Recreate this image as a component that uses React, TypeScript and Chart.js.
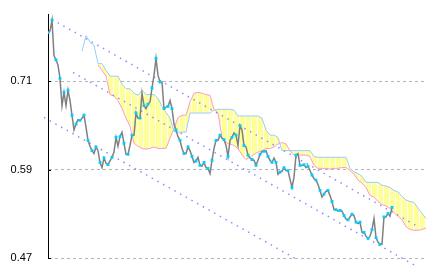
import React, { useEffect, useRef } from "react";
import { Chart, registerables } from "chart.js";

Chart.register(...registerables);

// y axis
const Y_TICKS = [0.47, 0.59, 0.71];
const Y_MIN = 0.47;
const Y_MAX = 0.8013;
const X_MAX = 189.5; // period index at right edge of plot

// closing price, one value per period starting at period 0
const PRICE = [
  0.776, 0.778, 0.793, 0.745, 0.739, 0.732, 0.714, 0.677, 0.695, 0.677,
  0.698, 0.684, 0.664, 0.644, 0.652, 0.658, 0.657, 0.660, 0.664, 0.648,
  0.630, 0.622, 0.616, 0.612, 0.621, 0.616, 0.600, 0.593, 0.606, 0.599,
  0.597, 0.602, 0.607, 0.614, 0.634, 0.622, 0.635, 0.641, 0.626, 0.611,
  0.611, 0.623, 0.637, 0.637, 0.667, 0.660, 0.660, 0.694, 0.677, 0.673,
  0.679, 0.682, 0.701, 0.718, 0.741, 0.718, 0.709, 0.709, 0.673, 0.675,
  0.676, 0.684, 0.673, 0.652, 0.644, 0.635, 0.630, 0.619, 0.612, 0.612,
  0.621, 0.616, 0.608, 0.600, 0.602, 0.607, 0.596, 0.595, 0.600, 0.593,
  0.592, 0.585, 0.603, 0.619, 0.630, 0.630, 0.637, 0.633, 0.631, 0.623,
  0.608, 0.630, 0.634, 0.640, 0.637, 0.623, 0.650, 0.644, 0.623, 0.621,
  0.610, 0.606, 0.604, 0.603, 0.596, 0.603, 0.611, 0.615, 0.615, 0.616,
  0.608, 0.603, 0.600, 0.606, 0.600, 0.584, 0.587, 0.588, 0.593, 0.589,
  0.589, 0.577, 0.566, 0.580, 0.610, 0.612, 0.596, 0.596, 0.597, 0.593,
  0.595, 0.589, 0.583, 0.578, 0.576, 0.570, 0.562, 0.553, 0.557, 0.561,
  0.562, 0.555, 0.547, 0.536, 0.536, 0.534, 0.535, 0.534, 0.528, 0.523,
  0.522, 0.526, 0.530, 0.528, 0.519, 0.517, 0.519, 0.505, 0.505, 0.500,
  0.497, 0.500, 0.509, 0.524, 0.498, 0.492, 0.489, 0.489, 0.526, 0.526,
  0.531, 0.527, 0.539,
];

// cloud spans, one value every CLOUD_STEP periods
const CLOUD_STEP = 2;
const SPAN_BLUE_START = 17;
const SPAN_BLUE = [
  0.751, 0.772, 0.763, 0.759, 0.734, 0.734, 0.725, 0.717, 0.717, 0.717,
  0.706, 0.700, 0.700, 0.694, 0.691, 0.698, 0.692, 0.692, 0.692, 0.687,
  0.676, 0.668, 0.660, 0.642, 0.641, 0.641, 0.641, 0.667, 0.667, 0.667,
  0.667, 0.667, 0.667, 0.671, 0.672, 0.672, 0.672, 0.672, 0.671, 0.663,
  0.663, 0.663, 0.663, 0.663, 0.663, 0.660, 0.644, 0.637, 0.637, 0.634,
  0.616, 0.616, 0.616, 0.616, 0.616, 0.616, 0.616, 0.616, 0.608, 0.607,
  0.607, 0.607, 0.607, 0.607, 0.607, 0.607, 0.607, 0.592, 0.587, 0.585,
  0.581, 0.573, 0.573, 0.573, 0.573, 0.569, 0.568, 0.566, 0.562, 0.560,
  0.554, 0.549, 0.547, 0.546, 0.538, 0.531, 0.524,
];
const SPAN_PINK_START = 25;
const SPAN_PINK = [
  0.732, 0.725, 0.717, 0.692, 0.690, 0.684, 0.673, 0.660, 0.649, 0.626,
  0.622, 0.619, 0.618, 0.619, 0.621, 0.619, 0.619, 0.619, 0.633, 0.646,
  0.661, 0.664, 0.664, 0.682, 0.694, 0.695, 0.694, 0.692, 0.691, 0.672,
  0.667, 0.634, 0.627, 0.625, 0.623, 0.619, 0.610, 0.604, 0.607, 0.611,
  0.614, 0.616, 0.619, 0.619, 0.621, 0.625, 0.627, 0.625, 0.616, 0.610,
  0.610, 0.610, 0.610, 0.608, 0.596, 0.592, 0.592, 0.592, 0.591, 0.592,
  0.592, 0.593, 0.593, 0.589, 0.584, 0.576, 0.572, 0.566, 0.555, 0.553,
  0.547, 0.543, 0.541, 0.538, 0.532, 0.527, 0.522, 0.513, 0.509, 0.508,
  0.508, 0.509, 0.511,
];

// trend channel lines: [period, value] end points
const TREND_A = [[2, 0.794], [185, 0.513]];
const TREND_B = [[12.5, 0.722], [185, 0.458]];
const TREND_C = [[-2, 0.661], [123.5, 0.47]];

const innerTicks = {
  id: "innerTicks",
  afterDatasetsDraw(chart: any) {
    const s = chart.scales.y;
    const ctx = chart.ctx;
    const left = chart.chartArea.left;
    ctx.save();
    ctx.strokeStyle = "#000";
    ctx.lineWidth = 1;
    for (const v of Y_TICKS) {
      const y = Math.round(s.getPixelForValue(v)) + 0.5;
      ctx.beginPath();
      ctx.moveTo(left, y);
      ctx.lineTo(left + 3, y);
      ctx.stroke();
    }
    ctx.restore();
  },
};

export default function App() {
  const ref = useRef<HTMLCanvasElement | null>(null);

  useEffect(() => {
    const canvas = ref.current;
    if (!canvas) return;
    const pc = document.createElement("canvas");
    pc.width = 6;
    pc.height = 1;
    const pctx = pc.getContext("2d")!;
    pctx.fillStyle = "#ffff99";
    pctx.fillRect(0, 0, 5, 1);
    pctx.fillStyle = "#ffffff";
    pctx.fillRect(5, 0, 1, 1);
    const pattern = canvas.getContext("2d")!.createPattern(pc, "repeat");

    const priceData = PRICE.map((v, i) => ({ x: i, y: v }));
    const blueData = SPAN_BLUE.map((v, j) => ({ x: SPAN_BLUE_START + j * CLOUD_STEP, y: v }));
    const pinkData = SPAN_PINK.map((v, j) => ({ x: SPAN_PINK_START + j * CLOUD_STEP, y: v }));
    const trend = (t: number[][]) => t.map(([x, y]) => ({ x, y }));

    const trendStyle = {
      borderColor: "#8c8cff",
      borderWidth: 1.5,
      borderDash: [1.5, 5],
      pointRadius: 0,
      fill: false,
      clip: false as any,
      order: 1,
    };

    const chart = new Chart(canvas, {
      type: "line",
      data: {
        datasets: [
          {
            data: blueData,
            borderColor: "#99ccff",
            borderWidth: 1,
            pointRadius: 0,
            fill: false,
            order: 2,
          },
          {
            data: pinkData,
            borderColor: "#ff99cc",
            borderWidth: 1,
            pointRadius: 0,
            fill: 0,
            backgroundColor: pattern as any,
            order: 3,
          },
          { data: trend(TREND_A), ...trendStyle },
          { data: trend(TREND_B), ...trendStyle },
          { data: trend(TREND_C), ...trendStyle },
          {
            data: priceData,
            borderColor: "#808080",
            borderWidth: 1.5,
            pointStyle: "rect",
            pointRadius: (c: any) => (c.dataIndex % 2 === 0 ? 2 : 0),
            pointBackgroundColor: "#00ccff",
            pointBorderWidth: 0,
            fill: false,
            order: 0,
          },
        ] as any,
      },
      options: {
        animation: false,
        responsive: false,
        events: [],
        layout: { padding: { left: 0, right: 5, top: 14, bottom: 13.7 } },
        plugins: { legend: { display: false }, tooltip: { enabled: false } },
        scales: {
          x: { type: "linear", display: false, min: 0, max: X_MAX },
          y: {
            type: "linear",
            min: Y_MIN,
            max: Y_MAX,
            afterBuildTicks: (s: any) => {
              s.ticks = Y_TICKS.map((v) => ({ value: v }));
            },
            afterFit: (s: any) => {
              s.width = 48;
            },
            grid: {
              color: "#b4b4b4",
              lineWidth: 1,
              drawTicks: true,
              tickLength: 16,
              tickColor: "rgba(0,0,0,0)",
            },
            border: { display: true, color: "#000", width: 1, dash: [3, 3] },
            ticks: {
              padding: 0,
              color: "#000",
              font: { family: "'Liberation Sans', Arial, sans-serif", size: 11 },
              callback: (v: any) => Number(v).toFixed(2),
            },
          },
        },
      },
      plugins: [innerTicks],
    });
    return () => chart.destroy();
  }, []);

  return (
    <div style={{ position: "absolute", left: 0, top: 0, width: 432, height: 272, background: "#fff" }}>
      <canvas ref={ref} width={432} height={272} style={{ display: "block", width: 432, height: 272 }} />
    </div>
  );
}
